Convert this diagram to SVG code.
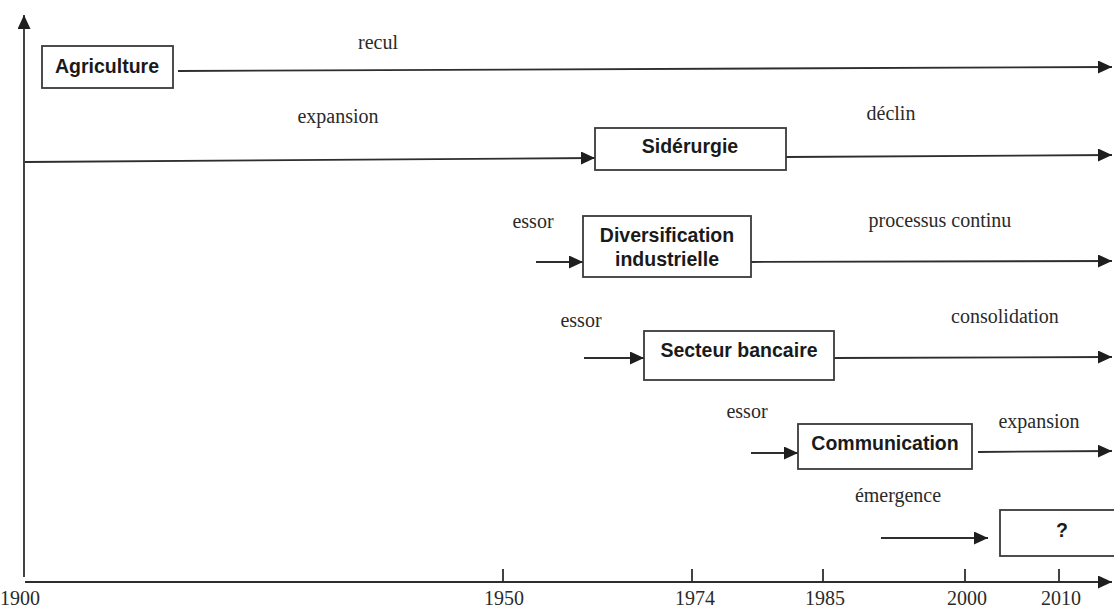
<svg xmlns="http://www.w3.org/2000/svg" width="1114" height="608" viewBox="0 0 1114 608">
<defs>
<marker id="arr" markerUnits="userSpaceOnUse" markerWidth="15" markerHeight="13" refX="14" refY="6.5" orient="auto">
<path d="M0,0 L14,6.5 L0,13 Z" fill="#1e1e1e"/>
</marker>
<style>
.ln{stroke:#2e2e2e;stroke-width:1.8;fill:none}
.box{fill:#fff;stroke:#3a3a3a;stroke-width:1.8}
.bt{font-family:"Liberation Sans",Arial,sans-serif;font-weight:bold;font-size:19.5px;fill:#1a1a1a;text-anchor:middle}
.lb{font-family:"Liberation Serif","Times New Roman",serif;font-size:20px;fill:#2a2a2a;text-anchor:middle}
</style>
</defs>
<rect width="1114" height="608" fill="#fff"/>
<g id="axes">
<line class="ln" x1="24" y1="577" x2="24" y2="15" marker-end="url(#arr)"/>
<line class="ln" x1="25" y1="582" x2="1112" y2="582" marker-end="url(#arr)"/>
<line class="ln" x1="503" y1="569" x2="503" y2="582"/>
<line class="ln" x1="692" y1="569" x2="692" y2="582"/>
<line class="ln" x1="823" y1="569" x2="823" y2="582"/>
<line class="ln" x1="965" y1="569" x2="965" y2="582"/>
<line class="ln" x1="1059" y1="569" x2="1059" y2="582"/>
<text class="lb" x="20" y="605">1900</text>
<text class="lb" x="504" y="605">1950</text>
<text class="lb" x="695" y="605">1974</text>
<text class="lb" x="825" y="605">1985</text>
<text class="lb" x="967" y="605">2000</text>
<text class="lb" x="1061" y="605">2010</text>
</g>
<g id="connectors">
<line class="ln" x1="178" y1="71" x2="1112" y2="67" marker-end="url(#arr)"/>
<line class="ln" x1="25" y1="162" x2="595" y2="158" marker-end="url(#arr)"/>
<line class="ln" x1="786" y1="157" x2="1112" y2="155" marker-end="url(#arr)"/>
<line class="ln" x1="536" y1="262" x2="583" y2="262" marker-end="url(#arr)"/>
<line class="ln" x1="751" y1="262" x2="1112" y2="261" marker-end="url(#arr)"/>
<line class="ln" x1="584" y1="358" x2="644" y2="358" marker-end="url(#arr)"/>
<line class="ln" x1="834" y1="358" x2="1112" y2="357" marker-end="url(#arr)"/>
<line class="ln" x1="751" y1="453" x2="798" y2="453" marker-end="url(#arr)"/>
<line class="ln" x1="978" y1="452" x2="1112" y2="451" marker-end="url(#arr)"/>
<line class="ln" x1="881" y1="538" x2="988" y2="538" marker-end="url(#arr)"/>
</g>
<g id="labels">
<text class="lb" x="378" y="49">recul</text>
<text class="lb" x="338" y="123">expansion</text>
<text class="lb" x="891" y="120">déclin</text>
<text class="lb" x="533" y="228">essor</text>
<text class="lb" x="940" y="227">processus continu</text>
<text class="lb" x="581" y="327">essor</text>
<text class="lb" x="1005" y="323">consolidation</text>
<text class="lb" x="747" y="418">essor</text>
<text class="lb" x="1039" y="428">expansion</text>
<text class="lb" x="898" y="502">émergence</text>
</g>
<g id="agriculture">
<rect class="box" x="42" y="46" width="131" height="42"/>
<text class="bt" x="107" y="73">Agriculture</text>
</g>
<g id="siderurgie">
<rect class="box" x="595" y="128" width="191" height="42"/>
<text class="bt" x="690" y="153">Sidérurgie</text>
</g>
<g id="diversification">
<rect class="box" x="583" y="216" width="168" height="61"/>
<text class="bt" x="667" y="242">Diversification</text>
<text class="bt" x="667" y="266">industrielle</text>
</g>
<g id="secteur-bancaire">
<rect class="box" x="644" y="331" width="190" height="49"/>
<text class="bt" x="739" y="357">Secteur bancaire</text>
</g>
<g id="communication">
<rect class="box" x="798" y="424" width="174" height="45"/>
<text class="bt" x="885" y="450">Communication</text>
</g>
<g id="unknown">
<rect class="box" x="1000" y="510" width="120" height="46"/>
<text class="bt" x="1062" y="537">?</text>
</g>
</svg>
